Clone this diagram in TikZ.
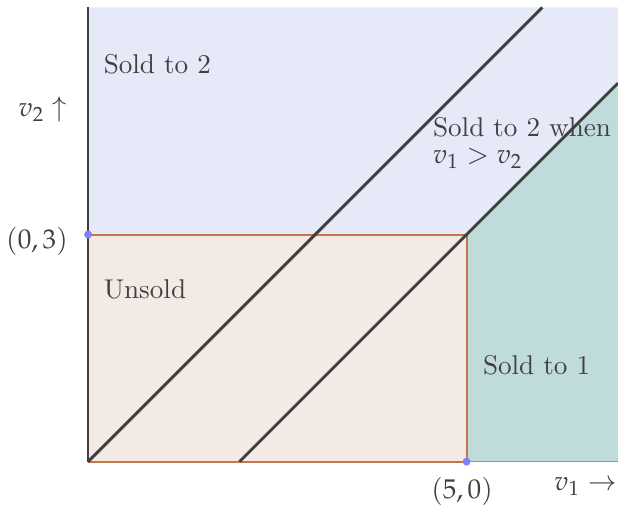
\documentclass[tikz,border=0pt]{standalone}
\usepackage{mathpazo}
\definecolor{bluefill}{HTML}{E6EAF8}
\definecolor{pinkfill}{HTML}{F3EAE5}
\definecolor{greenfill}{HTML}{C0DCDA}
\definecolor{edgeorange}{HTML}{C8744A}
\definecolor{dotblue}{HTML}{8080FF}
\definecolor{linegray}{HTML}{404040}
\tikzset{
  diag/.style={draw=linegray, line width=1.1pt},
  lbl/.style={text=linegray, font=\fontsize{10.2}{10.2}\selectfont, inner sep=0pt},
  dotpt/.style={circle, fill=dotblue, inner sep=0pt, minimum size=3pt},
}
\begin{document}
\begin{tikzpicture}[x=1cm, y=1cm]
\useasboundingbox (-1.164,-0.569) rectangle (7,6.098);
% regions
\fill[bluefill] (0,3) -- (5,3) -- (7,5) -- (7,6) -- (0,6) -- cycle;
\fill[greenfill] (5,0) -- (7,0) -- (7,5) -- (5,3) -- cycle;
\fill[pinkfill] (0,0) rectangle (5,3);
\draw[greenfill!70!black, line width=0.4pt] (5,0) -- (7,0);
\draw[edgeorange, line width=0.75pt] (0,0) -- (5,0) -- (5,3) -- (0,3);
% axis
\draw[linegray, line width=0.5pt] (0,0) -- (0,6);
% diagonals
\coordinate (o) at (0,0);
\coordinate (t1) at (6,6);
\coordinate (b2) at (2,0);
\coordinate (t2) at (7,5);
\draw[diag] (o) -- (t1);
\draw[diag] (b2) -- (t2);
% points
\node[dotpt] (p03) at (0,3) {};
\node[dotpt] (p50) at (5,0) {};
% labels
\node[lbl, anchor=base west] (s2) at (0.2,5.128) {Sold to 2};
\node[lbl, anchor=base] (v2) at (-0.60,4.56) {$v_2\uparrow$};
\node[lbl, anchor=base] (l03) at (-0.675,2.82) {$(0,3)$};
\node[lbl, anchor=base west] (uns) at (0.2,2.16) {Unsold};
\node[lbl, anchor=base west] (s1) at (5.21,1.147) {Sold to 1};
\node[lbl, anchor=base] (l50) at (4.94,-0.49) {$(5,0)$};
\node[lbl, anchor=base] (v1) at (6.57,-0.384) {$v_1\rightarrow$};
\node[lbl, anchor=base west] (s2w) at (4.55,4.30) {Sold to 2 when};
\node[lbl, anchor=base west] (s2wb) at (4.55,3.94) {$v_1>v_2$};
\end{tikzpicture}
\end{document}
